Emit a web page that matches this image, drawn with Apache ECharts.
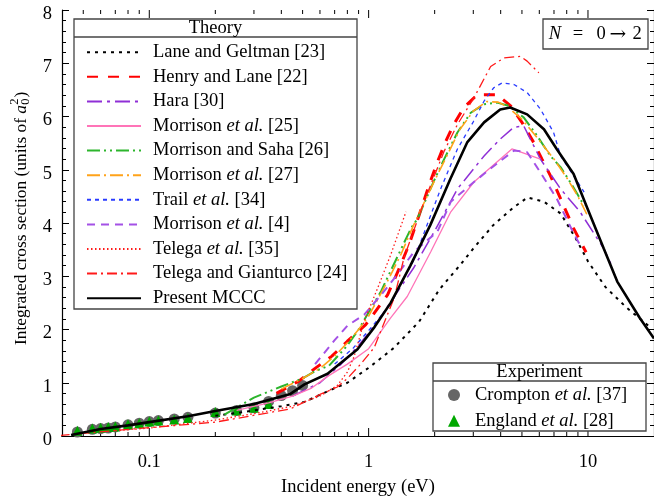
<!DOCTYPE html>
<html>
<head>
<meta charset="utf-8">
<script src="https://cdn.jsdelivr.net/npm/echarts@6.0.0/dist/echarts.min.js"></script>
<style>
html, body { margin: 0; padding: 0; background: #fff; }
#chart { width: 654px; height: 502px; }
</style>
</head>
<body>
<div id="chart"></div>
<script>
// Integrated cross section for the N = 0 -> 2 rotational excitation of H2

// Lane and Geltman [23]
const laneGeltmanE = [0.2, 0.27, 0.4, 0.51, 0.65, 0.8, 1.0, 1.3, 1.7, 2.1, 2.6, 3.0, 3.7, 4.6, 5.3, 6.3, 7.5, 8.8, 10, 12, 15, 19.5];
const laneGeltmanS = [0.38, 0.45, 0.56, 0.64, 0.84, 1.0, 1.28, 1.65, 2.15, 2.75, 3.2, 3.52, 3.96, 4.3, 4.48, 4.4, 4.18, 3.71, 3.28, 2.8, 2.41, 2.02];

// Henry and Lane [22]
const henryLaneE = [0.38, 0.48, 0.57, 0.68, 0.8, 0.97, 1.22, 1.38, 1.53, 1.7, 1.9, 2.06, 2.25, 2.45, 2.72, 3.13, 3.86, 4.44, 5.0, 5.66, 6.17, 6.74, 8.6, 9.8];
const henryLaneS = [0.8, 1.03, 1.27, 1.5, 1.78, 2.09, 2.65, 3.15, 3.6, 4.15, 4.75, 5.15, 5.54, 5.86, 6.17, 6.41, 6.41, 6.2, 5.89, 5.51, 5.2, 4.89, 3.9, 3.45];

// Hara [30]
const haraE = [0.45, 0.6, 0.75, 0.9, 1.1, 1.3, 1.6, 2.0, 2.54, 3.36, 3.99, 4.6, 5.1, 6.07, 7.5, 9.2, 11.8, 13.0];
const haraS = [0.75, 1.0, 1.35, 1.7, 2.15, 2.6, 3.15, 3.85, 4.64, 5.26, 5.58, 5.8, 5.82, 5.2, 4.64, 4.21, 3.52, 3.15];

// Morrison et al. [25]
const morrison25E = [0.25, 0.35, 0.45, 0.55, 0.65, 0.8, 1.0, 1.26, 1.5, 1.92, 2.37, 3.02, 4.5, 6.07];
const morrison25S = [0.48, 0.62, 0.75, 0.9, 1.12, 1.35, 1.64, 2.22, 2.62, 3.46, 4.21, 4.77, 5.39, 5.2];

// Morrison and Saha [26]
const morrisonSahaE = [0.22, 0.3, 0.4, 0.5, 0.57, 0.66, 0.8, 0.9, 1.14, 1.26, 1.56, 1.67, 1.99, 2.21, 2.54, 2.92, 3.36, 3.86, 4.36, 5.1, 5.86, 6.74, 7.5, 8.5, 9.6];
const morrisonSahaS = [0.4, 0.72, 0.93, 1.08, 1.22, 1.32, 1.7, 2.0, 2.72, 3.1, 3.9, 4.08, 4.8, 5.2, 5.7, 6.07, 6.23, 6.26, 6.2, 5.98, 5.64, 5.26, 5.05, 4.7, 4.33];

// Morrison et al. [27]
const morrison27E = [0.4, 0.5, 0.6, 0.7, 0.8, 0.9, 1.0, 1.2, 1.4, 1.6, 1.8, 2.0, 2.3, 2.6, 3.0, 3.45, 3.9, 4.3, 5.0, 6.0, 7.0, 8.0, 9.0, 10.0];
const morrison27S = [0.88, 1.08, 1.27, 1.5, 1.75, 2.0, 2.25, 2.85, 3.4, 3.95, 4.4, 4.8, 5.3, 5.75, 6.1, 6.28, 6.27, 6.18, 5.95, 5.55, 5.2, 4.85, 4.5, 4.12];

// Trail et al. [34]
const trailE = [0.7, 0.85, 1.0, 1.26, 1.45, 1.61, 1.92, 2.13, 2.54, 3.0, 3.36, 3.72, 4.06, 4.6, 5.28, 6.07, 6.97, 7.5, 8.6, 9.6];
const trailS = [1.35, 1.65, 1.98, 2.47, 2.97, 3.31, 4.15, 4.64, 5.39, 5.9, 6.29, 6.54, 6.63, 6.6, 6.45, 6.14, 5.7, 5.26, 4.89, 4.58];

// Morrison et al. [4]
const morrison4E = [0.57, 0.7, 0.8, 0.955, 1.14, 1.35, 1.61, 2.06, 2.37, 3.02, 3.8, 4.6, 5.28, 6.07, 7.2, 8.5, 9.3];
const morrison4S = [1.35, 1.8, 2.07, 2.28, 2.65, 3.03, 3.46, 3.84, 4.4, 4.77, 5.1, 5.36, 5.33, 4.95, 4.46, 3.85, 3.55];

// Telega et al. [35]
const telegaE = [0.07, 0.1, 0.2, 0.3, 0.45, 0.6, 0.72, 0.8, 0.86, 0.955, 1.1, 1.26, 1.48];
const telegaS = [0.1, 0.15, 0.3, 0.42, 0.56, 0.75, 0.95, 1.2, 1.5, 2.16, 2.78, 3.4, 4.21];

// Telega and Gianturco [24]
const telegaGianturcoE = [0.039, 0.078, 0.2, 0.44, 0.6, 0.72, 0.8, 0.92, 1.06, 1.31, 1.45, 1.79, 2.21, 2.54, 3.02, 3.6, 4.14, 4.93, 5.28, 5.97];
const telegaGianturcoS = [0.01, 0.12, 0.26, 0.51, 0.78, 0.92, 1.08, 1.35, 1.66, 2.6, 3.35, 4.4, 5.35, 5.85, 6.35, 6.94, 7.1, 7.13, 7.04, 6.82];

// Present MCCC
const mcccE = [0.044, 0.06, 0.08, 0.1, 0.15, 0.2, 0.3, 0.44, 0.51, 0.65, 0.89, 1.065, 1.26, 1.55, 1.91, 2.36, 2.82, 3.36, 3.98, 4.42, 5.28, 6.3, 7.2, 8.6, 10, 11.8, 13.6, 17.2, 20];
const mcccS = [0.02, 0.13, 0.2, 0.26, 0.37, 0.47, 0.6, 0.79, 0.97, 1.17, 1.63, 2.05, 2.5, 3.2, 3.96, 4.83, 5.52, 5.89, 6.13, 6.17, 6.04, 5.76, 5.39, 4.92, 4.25, 3.52, 2.9, 2.22, 1.83];

// Experiment: Crompton et al. [37]
const cromptonE = [0.047, 0.055, 0.06, 0.065, 0.07, 0.08, 0.09, 0.1, 0.11, 0.13, 0.15, 0.2, 0.25, 0.3, 0.35, 0.4, 0.45, 0.5];
const cromptonS = [0.075, 0.125, 0.14, 0.15, 0.17, 0.21, 0.24, 0.27, 0.29, 0.32, 0.35, 0.43, 0.48, 0.53, 0.65, 0.76, 0.85, 0.95];

// Experiment: England et al. [28]
const englandE = [0.047, 0.055, 0.06, 0.065, 0.07, 0.08, 0.09, 0.1, 0.11, 0.13, 0.15, 0.2, 0.25, 0.3, 0.35];
const englandS = [0.1, 0.14, 0.155, 0.17, 0.18, 0.22, 0.24, 0.27, 0.29, 0.31, 0.34, 0.45, 0.48, 0.53, 0.6];

// Axis ticks
const xMajorTicks = [0.1, 1, 10];
const xMinorTicks = [0.05, 0.06, 0.07, 0.08, 0.09, 0.2, 0.3, 0.4, 0.5, 0.6, 0.7, 0.8, 0.9, 2, 3, 4, 5, 6, 7, 8, 9];
const yTicks = [0, 1, 2, 3, 4, 5, 6, 7, 8];

const FONT = '"Liberation Serif", "Times New Roman", serif';
const FS = 18.5;

function pairs(xs, ys) { return xs.map((x, i) => [x, ys[i]]); }

const theory = [
  { name: 'Lane and Geltman [23]', e: laneGeltmanE, s: laneGeltmanS, color: '#000000', width: 2, type: [3, 5] },
  { name: 'Henry and Lane [22]', e: henryLaneE, s: henryLaneS, color: '#ff0000', width: 3, type: [11, 10] },
  { name: 'Hara [30]', e: haraE, s: haraS, color: '#8f2fd6', width: 1.5, type: [15, 5, 3, 5] },
  { name: 'Morrison et al. [25]', e: morrison25E, s: morrison25S, color: '#ff74b8', width: 1.3, type: 'solid' },
  { name: 'Morrison and Saha [26]', e: morrisonSahaE, s: morrisonSahaS, color: '#2db52d', width: 2, type: [13, 4, 2, 4, 2, 4] },
  { name: 'Morrison et al. [27]', e: morrison27E, s: morrison27S, color: '#ffa31a', width: 1.6, type: [13, 4, 2, 4] },
  { name: 'Trail et al. [34]', e: trailE, s: trailS, color: '#2a3cff', width: 1.3, type: [4, 4] },
  { name: 'Morrison et al. [4]', e: morrison4E, s: morrison4S, color: '#a451e6', width: 2, type: [8, 6] },
  { name: 'Telega et al. [35]', e: telegaE, s: telegaS, color: '#ff1a1a', width: 1.3, type: [1.5, 2.5] },
  { name: 'Telega and Gianturco [24]', e: telegaGianturcoE, s: telegaGianturcoS, color: '#ff1a1a', width: 1.3, type: [10, 4, 2, 4] },
  { name: 'Present MCCC', e: mcccE, s: mcccS, color: '#000000', width: 2.6, type: 'solid' }
];

const experiment = [
  { name: 'Crompton et al. [37]', e: cromptonE, s: cromptonS, color: '#666666', symbol: 'circle', size: 11 },
  { name: 'England et al. [28]', e: englandE, s: englandS, color: '#00a800', symbol: 'triangle', size: 10 }
];

function richName(name) {
  if (name.indexOf('et al.') >= 0) {
    const parts = name.split('et al.');
    return '{n|' + parts[0] + '}{i|et al.}{n|' + parts[1] + '}';
  }
  return '{n|' + name + '}';
}

const legendRich = {
  n: { fontFamily: FONT, fontSize: FS, color: '#000', lineHeight: 20 },
  i: { fontFamily: FONT, fontSize: FS, color: '#000', fontStyle: 'italic', lineHeight: 20 }
};

const series = [];
theory.forEach(t => {
  series.push({
    name: t.name,
    type: 'line',
    xAxisIndex: 0,
    yAxisIndex: 0,
    data: pairs(t.e, t.s),
    symbol: 'none',
    smooth: false,
    lineStyle: { color: t.color, width: t.width, type: t.type },
    itemStyle: { color: t.color },
    emphasis: { disabled: true },
    clip: true
  });
});
experiment.forEach(x => {
  series.push({
    name: x.name,
    type: 'scatter',
    xAxisIndex: 0,
    yAxisIndex: 0,
    data: pairs(x.e, x.s),
    symbol: x.symbol,
    symbolSize: x.size,
    itemStyle: { color: x.color, opacity: 1 },
    emphasis: { disabled: true }
  });
});

// Log-axis ticks drawn inward on the bottom and top edges of the frame
function tickSeries(values, len) {
  return {
    type: 'custom',
    xAxisIndex: 0,
    yAxisIndex: 0,
    silent: true,
    clip: false,
    data: values.map(v => [v]),
    encode: { x: 0 },
    renderItem: function (params, api) {
      const b = api.coord([api.value(0), 0]);
      const t = api.coord([api.value(0), 8]);
      return {
        type: 'group',
        children: [
          { type: 'line', shape: { x1: b[0], y1: b[1], x2: b[0], y2: b[1] - len }, style: { stroke: '#000', lineWidth: 1 } },
          { type: 'line', shape: { x1: t[0], y1: t[1], x2: t[0], y2: t[1] + len }, style: { stroke: '#000', lineWidth: 1 } }
        ]
      };
    }
  };
}
series.push(tickSeries(xMajorTicks, 8));
series.push(tickSeries(xMinorTicks, 4));

// Rotated y-axis title with a0^2 built from separate pieces
const TFS = 17.4;
const measureCtx = document.createElement('canvas').getContext('2d');
function textWidth(str, size, italic) {
  measureCtx.font = (italic ? 'italic ' : '') + size + 'px ' + FONT;
  return measureCtx.measureText(str).width;
}
const yTitleMain = 'Integrated cross section (units of ';
const wMain = textWidth(yTitleMain, TFS, false);
const wA = textWidth('a', TFS, true);
const smallFS = 12.5;
const wSmall = textWidth('0', smallFS, false);
const yTitle = {
  type: 'group',
  x: 21,
  y: 345,
  rotation: Math.PI / 2,
  children: [
    { type: 'text', x: 0, y: 0, style: { text: yTitleMain, font: TFS + 'px ' + FONT, fill: '#000', textAlign: 'left', textVerticalAlign: 'middle' } },
    { type: 'text', x: wMain, y: 0, style: { text: 'a', font: 'italic ' + TFS + 'px ' + FONT, fill: '#000', textAlign: 'left', textVerticalAlign: 'middle' } },
    { type: 'text', x: wMain + wA + 0.3, y: 5, style: { text: '0', font: smallFS + 'px ' + FONT, fill: '#000', textAlign: 'left', textVerticalAlign: 'middle' } },
    { type: 'text', x: wMain + wA + 0.3, y: -6.5, style: { text: '2', font: smallFS + 'px ' + FONT, fill: '#000', textAlign: 'left', textVerticalAlign: 'middle' } },
    { type: 'text', x: wMain + wA + wSmall + 1.2, y: 0, style: { text: ')', font: TFS + 'px ' + FONT, fill: '#000', textAlign: 'left', textVerticalAlign: 'middle' } }
  ]
};

const boxStyle = { fill: '#ffffff', stroke: '#444444', lineWidth: 1.3 };

function plainText(str, x, y, italic) {
  return { type: 'text', z: 3, x: x, y: y, style: {
    text: str, font: (italic ? 'italic ' : '') + FS + 'px ' + FONT, fill: '#000',
    textAlign: 'center', textVerticalAlign: 'middle' } };
}

const graphic = [
  // Theory legend frame
  { type: 'rect', z: 3, shape: { x: 74, y: 19, width: 283, height: 290 }, style: boxStyle },
  { type: 'line', z: 3, shape: { x1: 74, y1: 37, x2: 357, y2: 37 }, style: { stroke: '#444444', lineWidth: 1.3 } },
  plainText('Theory', 215.5, 28.5, false),
  // Experiment legend frame
  { type: 'rect', z: 3, shape: { x: 433, y: 363, width: 213, height: 68 }, style: boxStyle },
  { type: 'line', z: 3, shape: { x1: 433, y1: 381, x2: 646, y2: 381 }, style: { stroke: '#444444', lineWidth: 1.3 } },
  plainText('Experiment', 539.5, 372.5, false),
  // Transition label N = 0 -> 2
  { type: 'rect', z: 3, shape: { x: 543, y: 19, width: 105, height: 30 }, style: boxStyle },
  plainText('N', 555, 34.5, true),
  plainText('=', 578, 34.5, false),
  plainText('0', 601, 34.5, false),
  { type: 'text', z: 3, x: 618, y: 34.5, style: { text: '→', font: '20px "DejaVu Serif", serif', fill: '#000', textAlign: 'center', textVerticalAlign: 'middle' } },
  plainText('2', 637, 34.5, false),
  yTitle
];

const chart = echarts.init(document.getElementById('chart'), null, { renderer: 'canvas' });

const axisLineStyle = { show: true, lineStyle: { color: '#000', width: 1.2 } };

chart.setOption({
  animation: false,
  backgroundColor: '#ffffff',
  grid: { left: 62, top: 10, right: -3, bottom: 63, containLabel: false },
  xAxis: [
    {
      type: 'log', logBase: 10, min: 0.04, max: 20, position: 'bottom',
      axisLine: axisLineStyle,
      axisTick: { show: false },
      minorTick: { show: false },
      splitLine: { show: false },
      minorSplitLine: { show: false },
      axisLabel: {
        fontFamily: FONT, fontSize: FS, color: '#000', margin: 17,
        showMinLabel: false, showMaxLabel: false,
        formatter: function (v) {
          const l = Math.log10(v);
          if (Math.abs(l - Math.round(l)) > 1e-6 || v < 0.05 || v > 15) return '';
          const r = Math.round(l);
          return r < 0 ? (Math.pow(10, r)).toFixed(-r) : String(Math.pow(10, r));
        }
      },
      name: 'Incident energy (eV)',
      nameLocation: 'middle',
      nameGap: 42,
      nameTextStyle: { fontFamily: FONT, fontSize: FS, color: '#000' }
    },
    {
      type: 'log', logBase: 10, min: 0.04, max: 20, position: 'top',
      axisLine: axisLineStyle,
      axisTick: { show: false },
      axisLabel: { show: false },
      splitLine: { show: false }
    }
  ],
  yAxis: [
    {
      type: 'value', min: 0, max: 8, interval: 1, position: 'left',
      axisLine: axisLineStyle,
      axisTick: { show: true, inside: true, length: 7, lineStyle: { color: '#000', width: 1 } },
      minorTick: { show: true, splitNumber: 5, length: 4, lineStyle: { color: '#000', width: 1 } },
      splitLine: { show: false },
      axisLabel: {
        margin: 10,
        formatter: v => (yTicks.indexOf(v) >= 0 ? '{v|' + v + '}' : ''),
        rich: { v: { fontFamily: FONT, fontSize: FS, color: '#000', padding: [8, 0, 0, 0] } }
      }
    },
    {
      type: 'value', min: 0, max: 8, interval: 1, position: 'right',
      axisLine: axisLineStyle,
      axisTick: { show: true, inside: true, length: 7, lineStyle: { color: '#000', width: 1 } },
      minorTick: { show: true, splitNumber: 5, length: 4, lineStyle: { color: '#000', width: 1 } },
      splitLine: { show: false },
      axisLabel: { show: false }
    }
  ],
  legend: [
    {
      data: theory.map(t => t.name),
      orient: 'vertical',
      left: 86,
      top: 42.2,
      padding: 0,
      itemWidth: 54,
      itemHeight: 14,
      itemGap: 4.6,
      selectedMode: false,
      formatter: richName,
      itemStyle: { color: 'rgba(0,0,0,0)', borderWidth: 0, opacity: 0 },
      textStyle: { fontFamily: FONT, fontSize: FS, color: '#000', lineHeight: 20, padding: [0, 0, 0, 7], rich: legendRich },
      z: 5
    },
    {
      data: experiment.map(x => x.name),
      orient: 'vertical',
      left: 448,
      top: 385,
      padding: 0,
      itemWidth: 12,
      itemHeight: 12,
      itemGap: 5.7,
      selectedMode: false,
      formatter: richName,
      textStyle: { fontFamily: FONT, fontSize: FS, color: '#000', lineHeight: 20, padding: [0, 0, 0, 10], rich: legendRich },
      z: 5
    }
  ],
  graphic: graphic,
  series: series
});
</script>
</body>
</html>
